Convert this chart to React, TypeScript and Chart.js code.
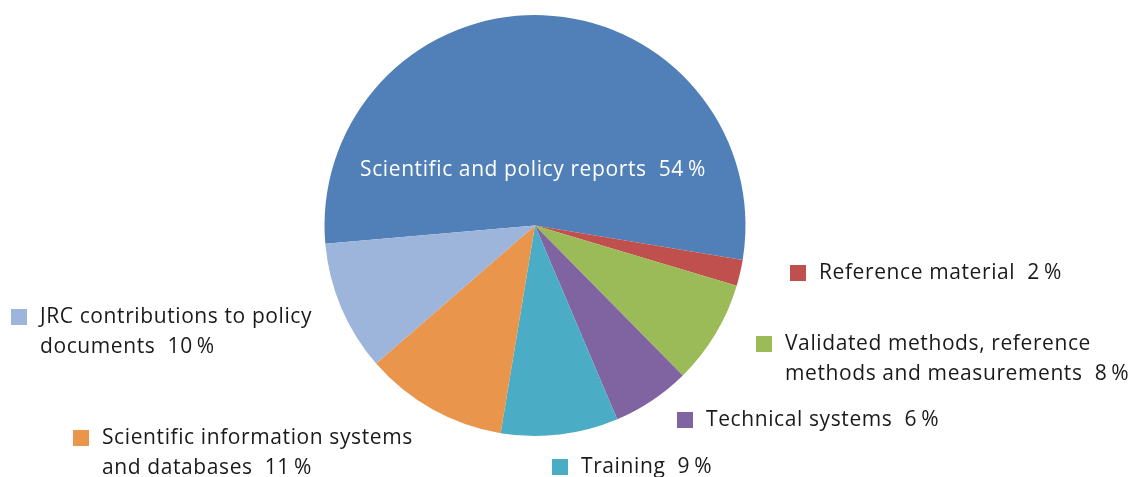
import React, { useEffect, useRef } from "react";
import { Chart, registerables } from "chart.js";

Chart.register(...registerables);

const categories: string[][] = [
  ["Scientific and policy reports"],
  ["Reference material"],
  ["Validated methods, reference", "methods and measurements"],
  ["Technical systems"],
  ["Training"],
  ["Scientific information systems", "and databases"],
  ["JRC contributions to policy", "documents"],
];
const shares: number[] = [54, 2, 8, 6, 9, 11, 10];
const sliceColors: string[] = ["#5080B7", "#C0504D", "#9BBB59", "#8064A2", "#4BACC6", "#E9964C", "#9DB4DB"];

// label anchors: [square left x, first-line center y] (pixel layout, not data)
const labelAnchors: [number, number][] = [
  [0, 0],
  [790, 273],
  [756, 344],
  [677, 420],
  [552, 467],
  [73, 438],
  [11, 317],
];

const FONT = '21px "Open Sans", "Noto Sans", sans-serif';

const labelPlugin = {
  id: "sideLabels",
  afterDatasetsDraw(chart: any) {
    const ctx = chart.ctx as CanvasRenderingContext2D;
    const meta = chart.getDatasetMeta(0);
    ctx.save();
    ctx.font = FONT;
    (ctx as any).letterSpacing = "0.6px";
    ctx.textBaseline = "middle";
    categories.forEach((lines, i) => {
      const pct = `${shares[i]}\u2009%`;
      if (i === 0) {
        const arc = meta.data[0];
        ctx.fillStyle = "#ffffff";
        ctx.textAlign = "center";
        ctx.fillText(`${lines[0]}  ${pct}`, arc.x - 2, arc.y - 55);
        return;
      }
      const [sx, sy] = labelAnchors[i];
      ctx.fillStyle = sliceColors[i];
      ctx.fillRect(sx, sy - 8, 16, 16);
      ctx.fillStyle = "#1a1a1a";
      ctx.textAlign = "left";
      lines.forEach((ln, j) => {
        const txt = j === lines.length - 1 ? `${ln}  ${pct}` : ln;
        ctx.fillText(txt, sx + 29, sy + j * 30);
      });
    });
    ctx.restore();
  },
};

export default function App() {
  const ref = useRef<HTMLCanvasElement>(null);
  useEffect(() => {
    const chart = new Chart(ref.current!, {
      type: "pie",
      data: {
        labels: categories.map((c) => c.join(" ")),
        datasets: [
          {
            data: shares,
            backgroundColor: sliceColors,
            borderWidth: 0,
          },
        ],
      },
      options: {
        responsive: false,
        animation: false,
        rotation: 265,
        layout: { padding: { left: 324, right: 390, top: 15, bottom: 41 } },
        plugins: {
          legend: { display: false },
          tooltip: { enabled: false },
        },
      },
      plugins: [labelPlugin],
    });
    return () => chart.destroy();
  }, []);
  return (
    <div style={{ position: "fixed", left: 0, top: 0, width: 1136, height: 477, background: "#fff" }}>
      <canvas ref={ref} width={1136} height={477} style={{ width: 1136, height: 477 }} />
    </div>
  );
}
